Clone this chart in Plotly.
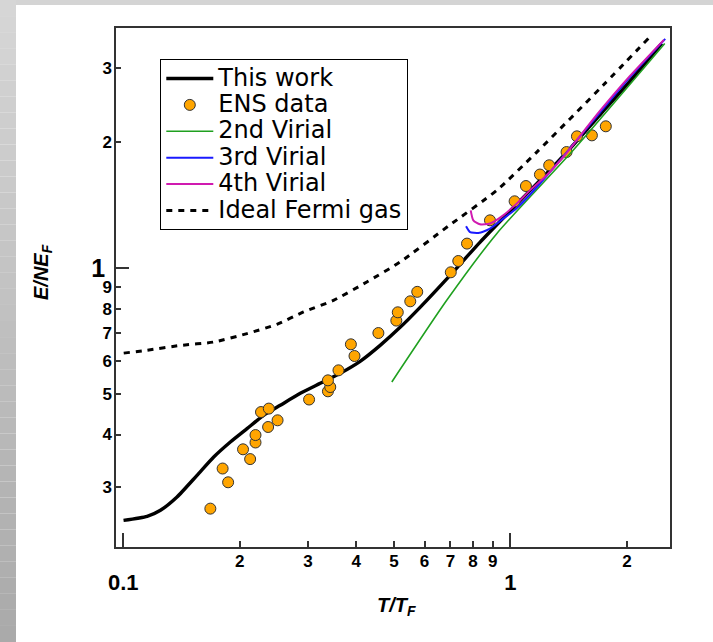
import plotly.graph_objects as go

# ---- data (T/T_F, E/NE_F) ----
t_this = [0.1002, 0.1153, 0.1248, 0.1377, 0.1551, 0.1713, 0.1891, 0.2088, 0.2305, 0.2544,
          0.2866, 0.3227, 0.3634, 0.4091, 0.4608, 0.5189, 0.5843, 0.6982, 0.834, 1.0167,
          1.1916, 1.396, 1.701, 2.033, 2.459]
e_this = [0.2493, 0.2549, 0.2636, 0.2836, 0.3195, 0.3534, 0.3838, 0.4131, 0.4446, 0.4697,
          0.5017, 0.5301, 0.5602, 0.5984, 0.6534, 0.7214, 0.8055, 0.9606, 1.152, 1.393,
          1.620, 1.890, 2.321, 2.794, 3.444]

t_ens = [0.1679, 0.1806, 0.1866, 0.2039, 0.2127, 0.2196, 0.2196, 0.2269, 0.2377, 0.2367,
         0.2504, 0.302, 0.3378, 0.3425, 0.3378, 0.3597, 0.3956, 0.3872, 0.456, 0.5073,
         0.5117, 0.5512, 0.5745, 0.7013, 0.7333, 0.7723, 0.8854, 1.025, 1.0965, 1.1916,
         1.259, 1.396, 1.485, 1.623, 1.763]
e_ens = [0.266, 0.3317, 0.3075, 0.3687, 0.3494, 0.3828, 0.3988, 0.4526, 0.4613, 0.4169,
         0.4325, 0.4849, 0.5073, 0.5194, 0.5389, 0.5694, 0.6162, 0.6571, 0.6992, 0.7487,
         0.7836, 0.8325, 0.877, 0.9766, 1.0393, 1.1437, 1.300, 1.4434, 1.570, 1.6725,
         1.760, 1.893, 2.064, 2.075, 2.181]

t_vir2 = [0.4939, 0.6846, 0.9214, 1.452, 2.503]
e_vir2 = [0.534, 0.837, 1.208, 1.911, 3.438]

t_vir3 = [0.768, 0.7863, 0.826, 0.8855, 0.958, 1.0376, 1.191, 1.701, 2.03, 2.51]
e_vir3 = [1.258, 1.219, 1.213, 1.242, 1.312, 1.39, 1.59, 2.35, 2.85, 3.53]

t_vir4 = [0.7895, 0.802, 0.834, 0.8855, 0.958, 1.0376, 1.1227, 1.2397, 1.3686, 1.70, 2.03, 2.49]
e_vir4 = [1.3735, 1.30, 1.2717, 1.277, 1.336, 1.425, 1.533, 1.666, 1.842, 2.37, 2.87, 3.51]

t_ifg = [0.1003, 0.1153, 0.1405, 0.1713, 0.2088, 0.2494, 0.2922, 0.3492, 0.4257, 0.5189,
         0.690, 0.9214, 1.168, 1.735, 2.312]
e_ifg = [0.626, 0.636, 0.653, 0.6654, 0.697, 0.7336, 0.785, 0.837, 0.926, 1.0336,
         1.258, 1.533, 1.890, 2.733, 3.60]

# axis ticks
x_major = [0.1, 1]
x_major_text = ["0.1", "1"]
x_minor = [0.2, 0.3, 0.4, 0.5, 0.6, 0.7, 0.8, 0.9, 2]
x_minor_text = ["2", "3", "4", "5", "6", "7", "8", "9", "2"]
y_major = [1]
y_major_text = ["1"]
y_minor = [0.3, 0.4, 0.5, 0.6, 0.7, 0.8, 0.9, 2, 3]
y_minor_text = ["3", "4", "5", "6", "7", "8", "9", "2", "3"]

W, H = 713, 642
ML, MR, MT, MB = 116, 43, 28, 95
PW, PH = W - ML - MR, H - MT - MB


def px(xp):
    return (xp - ML) / PW


def py(yp):
    return 1 - (yp - MT) / PH


TICK_FONT = "Liberation Sans Narrow, Arial Narrow, Liberation Sans, Arial"
LEG_FONT = "DejaVu Sans, Noto Sans, sans-serif"
AX = "#333333"


def leg(name):
    return f'<span style="font-size:24px">{name}</span>'


fig = go.Figure()

fig.add_trace(go.Scatter(x=t_this, y=e_this, mode="lines", name=leg("This work"),
                         line=dict(color="black", width=3.4, shape="spline", smoothing=0.6)))
fig.add_trace(go.Scatter(x=t_ens, y=e_ens, mode="markers", name=leg("ENS data"),
                         marker=dict(color="#FFA500", size=11,
                                     line=dict(color="#333333", width=1))))
fig.add_trace(go.Scatter(x=t_vir2, y=e_vir2, mode="lines", name=leg("2nd Virial"),
                         line=dict(color="#1fa01f", width=1.6, shape="spline", smoothing=0.6)))
fig.add_trace(go.Scatter(x=t_vir3, y=e_vir3, mode="lines", name=leg("3rd Virial"),
                         line=dict(color="#1a1aff", width=2, shape="spline", smoothing=0.6)))
fig.add_trace(go.Scatter(x=t_vir4, y=e_vir4, mode="lines", name=leg("4th Virial"),
                         line=dict(color="#d01ab0", width=2, shape="spline", smoothing=0.6)))
fig.add_trace(go.Scatter(x=t_ifg, y=e_ifg, mode="lines", name=leg("Ideal Fermi gas"),
                         line=dict(color="black", width=3, dash="6px,6px",
                                   shape="spline", smoothing=0.6)))
# carrier for the secondary (minor-label) axes
fig.add_trace(go.Scatter(x=[], y=[], xaxis="x2", yaxis="y2", showlegend=False,
                         hoverinfo="skip"))

xr = [-1.0186, 0.412]
yr = [-0.6668, 0.5736]

common = dict(type="log", showgrid=False, zeroline=False, ticks="inside",
              tickcolor=AX, tickwidth=1.5, tickmode="array")

fig.update_layout(
    width=W, height=H,
    margin=dict(l=ML, r=MR, t=MT, b=MB, pad=0),
    paper_bgcolor="white", plot_bgcolor="white",
    showlegend=True,
    legend=dict(x=px(160), y=py(59), xanchor="left", yanchor="top",
                bgcolor="white", bordercolor="black", borderwidth=1.3,
                font=dict(family=LEG_FONT, size=18, color="black"),
                itemwidth=47, tracegroupgap=0),
    xaxis=dict(range=xr, tickvals=x_major, ticktext=x_major_text, ticklen=14,
               showline=True, linecolor=AX, linewidth=1.5, mirror=True,
               tickfont=dict(family=TICK_FONT, size=22, color="black", weight="bold"),
               ticklabelstandoff=15, **common),
    xaxis2=dict(range=xr, overlaying="x", anchor="y", side="bottom",
                tickvals=x_minor, ticktext=x_minor_text, ticklen=6, showline=False,
                tickfont=dict(family=TICK_FONT, size=17, color="black", weight="bold"),
                ticklabelstandoff=2, **common),
    yaxis=dict(range=yr, tickvals=y_major, ticktext=y_major_text, ticklen=13,
               showline=True, linecolor=AX, linewidth=1.5, mirror=True,
               tickfont=dict(family=TICK_FONT, size=25, color="black", weight="bold"),
               ticklabelstandoff=4, **common),
    yaxis2=dict(range=yr, overlaying="y", anchor="x", side="left",
                tickvals=y_minor, ticktext=y_minor_text, ticklen=5, showline=False,
                tickfont=dict(family=TICK_FONT, size=17, color="black", weight="bold"),
                ticklabelstandoff=3, **common),
)

# axis titles
fig.add_annotation(text="<b><i>T/T</i></b><sub><b><i>F</i></b></sub>", xref="paper", yref="paper",
                   x=px(396), y=py(606), xanchor="center", yanchor="middle", showarrow=False,
                   font=dict(family="Liberation Sans, Arial", size=20, color="black"))
fig.add_annotation(text="<b><i>E/NE</i></b><sub><b><i>F</i></b></sub>", xref="paper", yref="paper",
                   x=px(42), y=py(272), xanchor="center", yanchor="middle", showarrow=False,
                   textangle=-90,
                   font=dict(family="Liberation Sans, Arial", size=20, color="black"))

# grey frame around the white page: top strip and shaded left strip
shapes = [dict(type="rect", xref="paper", yref="paper", x0=px(0), x1=px(W), y0=py(0), y1=py(5),
               fillcolor="#d4d4d4", line=dict(width=0), layer="below")]
n = 40
for i in range(n):
    f = i / (n - 1)
    g = int(round(0xd6 + (0xaa - 0xd6) * f))
    shapes.append(dict(type="rect", xref="paper", yref="paper", x0=px(0), x1=px(16),
                       y0=py(H * i / n), y1=py(H * (i + 1) / n),
                       fillcolor=f"rgb({g},{g},{g})", line=dict(width=0), layer="below"))
fig.update_layout(shapes=shapes)

fig.write_html("out.html")
